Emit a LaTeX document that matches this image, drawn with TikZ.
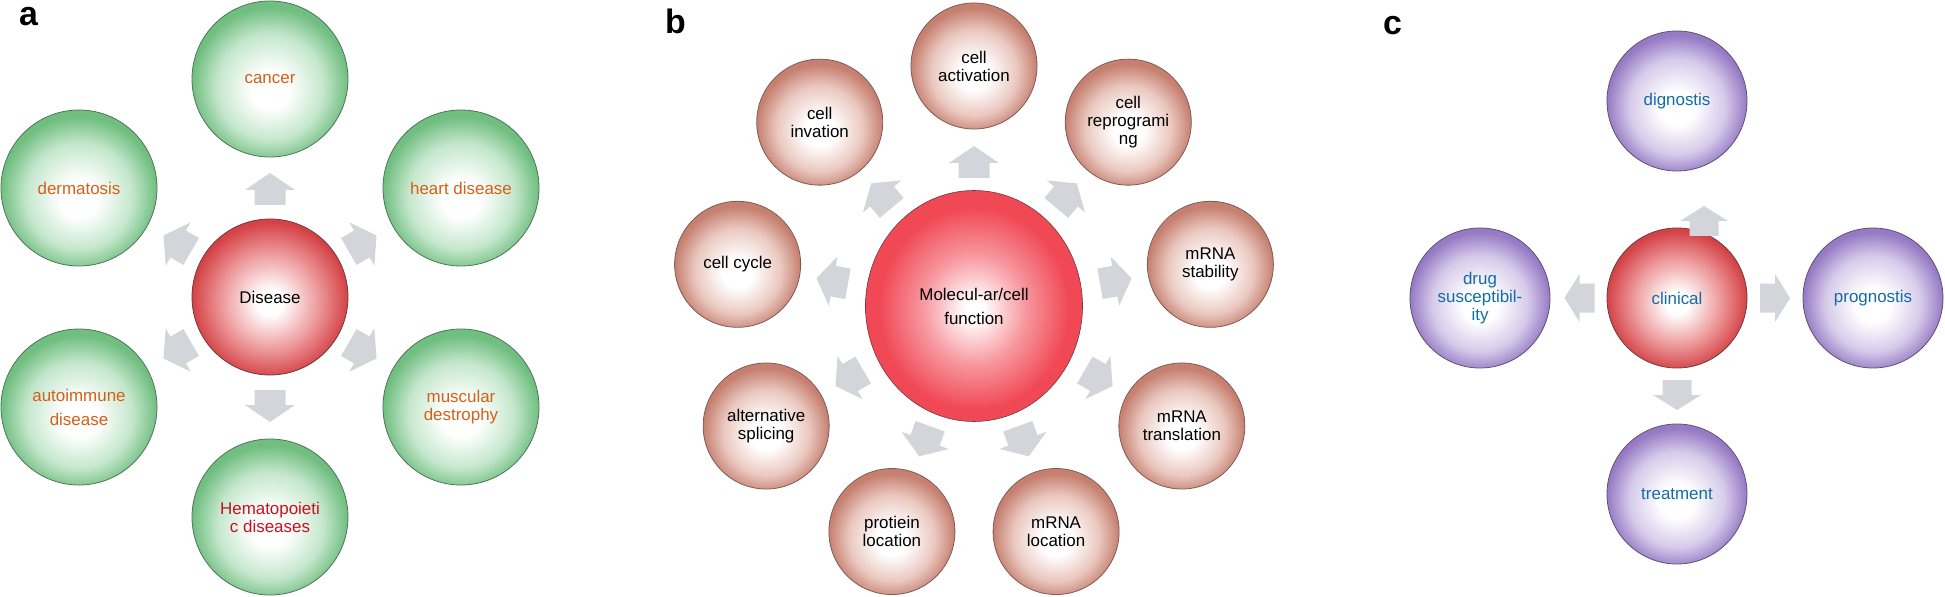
\documentclass[tikz,border=0pt]{standalone}
\usepackage{fontspec}
\setmainfont{Liberation Sans}
\usetikzlibrary{calc,shapes.geometric}

\definecolor{gEdge}{RGB}{112,190,128}
\definecolor{gMid}{RGB}{196,231,204}
\definecolor{gLine}{RGB}{80,115,90}
\definecolor{rEdge}{RGB}{212,66,70}
\definecolor{rMid}{RGB}{238,158,160}
\definecolor{rLine}{RGB}{105,60,65}
\definecolor{bEdge}{RGB}{240,72,84}
\definecolor{bMid}{RGB}{247,150,158}
\definecolor{brEdge}{RGB}{198,128,112}
\definecolor{brMid}{RGB}{234,200,192}
\definecolor{brLine}{RGB}{125,92,88}
\definecolor{pEdge}{RGB}{150,122,196}
\definecolor{pMid}{RGB}{214,203,234}
\definecolor{pLine}{RGB}{92,82,112}
\definecolor{txtOrange}{RGB}{212,96,24}
\definecolor{txtRed}{RGB}{200,16,30}
\definecolor{txtBlue}{RGB}{18,108,166}
\definecolor{arrowfill}{RGB}{211,213,219}

\pgfdeclareradialshading{gshade}{\pgfpoint{0bp}{-4bp}}{color(0bp)=(white); color(6bp)=(white); color(17bp)=(gMid); color(25bp)=(gEdge); color(50bp)=(gEdge)}
\pgfdeclareradialshading{rshade}{\pgfpoint{0bp}{-2bp}}{color(0bp)=(white); color(4bp)=(white); color(15bp)=(rMid); color(25bp)=(rEdge); color(50bp)=(rEdge)}
\pgfdeclareradialshading{bshade}{\pgfpoint{0bp}{-1bp}}{color(0bp)=(white); color(2bp)=(white); color(12bp)=(bMid); color(22bp)=(bEdge); color(50bp)=(bEdge)}
\pgfdeclareradialshading{brshade}{\pgfpoint{0bp}{-4bp}}{color(0bp)=(white); color(6bp)=(white); color(17bp)=(brMid); color(25bp)=(brEdge); color(50bp)=(brEdge)}
\pgfdeclareradialshading{pshade}{\pgfpoint{0bp}{-3bp}}{color(0bp)=(white); color(6bp)=(white); color(17bp)=(pMid); color(25bp)=(pEdge); color(50bp)=(pEdge)}

\tikzset{
  txt/.style={font=\fontsize{17}{18}\selectfont, align=center},
  gcirc/.style={circle, minimum size=156bp, inner sep=0pt, draw=gLine, line width=0.8bp, shading=gshade, txt, text=txtOrange},
  rcirc/.style={circle, inner sep=0pt, draw=rLine, line width=0.8bp, shading=rshade, txt, text=black},
  brcirc/.style={circle, minimum size=126bp, inner sep=0pt, draw=brLine, line width=0.8bp, shading=brshade, txt, text=black},
  pcirc/.style={circle, minimum size=140bp, inner sep=0pt, draw=pLine, line width=0.8bp, shading=pshade, txt, text=txtBlue},
  panel/.style={font=\bfseries\fontsize{34}{34}\selectfont, anchor=base west, inner sep=0pt},
  pics/arrA/.style={code={\fill[arrowfill] (-16bp,-15.5bp) -- (-1bp,-15.5bp) -- (-1bp,-25bp) -- (16bp,0bp) -- (-1bp,25bp) -- (-1bp,15.5bp) -- (-16bp,15.5bp) -- cycle;}},
  pics/arrC/.style={code={\fill[arrowfill] (-15bp,-14.5bp) -- (0bp,-14.5bp) -- (0bp,-24bp) -- (15bp,0bp) -- (0bp,24bp) -- (0bp,14.5bp) -- (-15bp,14.5bp) -- cycle;}}
}

\begin{document}
\begin{tikzpicture}[x=1bp,y=-1bp]
\useasboundingbox (0,0) rectangle (1945,597);

% ---------------- panel a ----------------
\node[panel] (la) at (19,26) {a};
\coordinate (ac) at (270,297);
\node[rcirc, minimum size=156bp] (disease) at (ac) {Disease};
\node[gcirc] (cancer) at (270,79) {cancer};
\node[gcirc] (derm) at (79,188) {dermatosis};
\node[gcirc] (heart) at (461,188) {heart disease};
\node[gcirc] (auto) at (79,407) {autoimmune\\[6bp]disease};
\node[gcirc] (musc) at (461,407) {muscular\\destrophy};
\node[gcirc, text=txtRed] (hema) at (270,517) {Hematopoieti\\c diseases};
\foreach \a/\d in {90/108,30/107,150/107,210/107,330/107,270/109}
  \pic[rotate=\a] at ($(ac)+(\a:\d bp)$) {arrA};

% ---------------- panel b ----------------
\node[panel] (lb) at (665,34) {b};
\coordinate (bc) at (974,306);
\node[ellipse, minimum width=217bp, minimum height=231bp, inner sep=0pt, draw=rLine, line width=0.6bp, shading=bshade, txt] (mol) at (bc) {Molecul-ar/cell\\[6bp]function};
\node[brcirc] (b1) at ($(bc)+(90:240bp)$) {cell\\activation};
\node[brcirc] (b2) at ($(bc)+(50:240bp)$) {cell\\reprogrami\\ng};
\node[brcirc] (b3) at ($(bc)+(10:240bp)$) {mRNA\\stability};
\node[brcirc] (b4) at ($(bc)+(-30:240bp)$) {mRNA\\translation};
\node[brcirc] (b5) at ($(bc)+(-70:240bp)$) {mRNA\\location};
\node[brcirc] (b6) at ($(bc)+(-110:240bp)$) {protiein\\location};
\node[brcirc] (b7) at ($(bc)+(-150:240bp)$) {alternative\\splicing};
\node[brcirc] (b8) at ($(bc)+(170:240bp)$) {cell cycle};
\node[brcirc] (b9) at ($(bc)+(130:240bp)$) {cell\\invation};
\foreach \a in {90,50,10,-30,-70,-110,-150,170,130}
  \pic[rotate=\a] at ($(bc)+(\a:144bp)$) {arrA};

% ---------------- panel c ----------------
\node[panel] (lc) at (1383,35) {c};
\coordinate (cc) at (1677,298);
\node[rcirc, minimum size=140bp, text=txtBlue] (clin) at (cc) {clinical};
\node[pcirc] (diag) at (1677,101) {dignostis};
\node[pcirc] (drug) at (1480,298) {drug\\susceptibil-\\ity};
\node[pcirc] (prog) at (1873,298) {prognostis};
\node[pcirc] (treat) at (1677,494) {treatment};
\pic[rotate=90] at (1704,221) {arrC};
\pic[rotate=180] at (1579.5,298) {arrC};
\pic[rotate=0] at (1775,298) {arrC};
\pic[rotate=270] at (1677,395) {arrC};
\end{tikzpicture}
\end{document}
